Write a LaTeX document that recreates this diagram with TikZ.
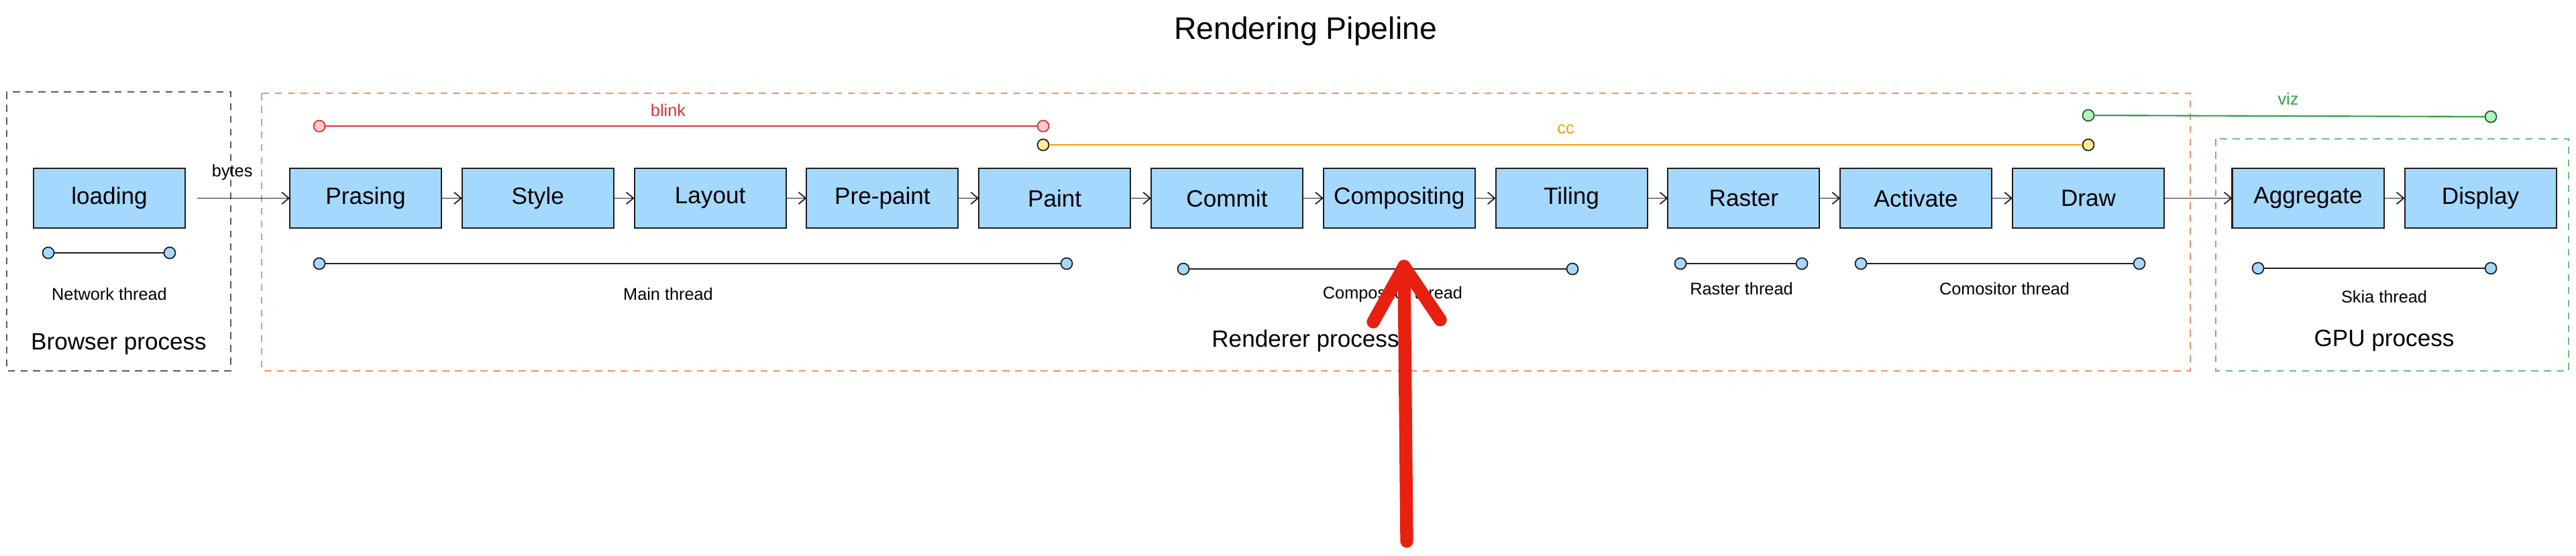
\documentclass[tikz,border=0pt]{standalone}
\usepackage{fontspec}
\setmainfont{Liberation Sans}
\usetikzlibrary{arrows.meta,positioning}
\definecolor{stageblue}{RGB}{165,216,255}
\definecolor{inkgray}{RGB}{30,30,30}
\definecolor{browsergray}{RGB}{90,90,90}
\definecolor{rendererorange}{RGB}{245,146,92}
\definecolor{gpugreen}{RGB}{105,190,125}
\definecolor{blinkred}{RGB}{224,49,49}
\definecolor{blinkpink}{RGB}{255,201,201}
\definecolor{ccorange}{RGB}{245,159,0}
\definecolor{ccyellow}{RGB}{255,236,153}
\definecolor{vizgreen}{RGB}{47,158,68}
\definecolor{vizlight}{RGB}{178,242,187}
\definecolor{markred}{RGB}{232,32,16}

\begin{document}
\begin{tikzpicture}[
    stage/.style={draw=inkgray, line width=0.6pt, fill=stageblue, minimum width=2.26cm,
        minimum height=0.89cm, inner sep=0pt, outer sep=0pt, font=\fontsize{10}{12}\selectfont},
    flow/.style={-{Straight Barb[length=3pt,width=5pt]}, draw=inkgray, line width=0.5pt},
    threaddot/.style={circle, draw=inkgray, line width=0.5pt, fill=stageblue,
        minimum size=0.17cm, inner sep=0pt},
    threadline/.style={draw=inkgray, line width=0.7pt},
    smalltext/.style={font=\fontsize{7.2}{9}\selectfont},
    procbox/.style={dash pattern=on 3pt off 2.4pt, line width=0.5pt},
    proclabel/.style={font=\fontsize{10}{12}\selectfont},
    scribble/.style={draw=markred, line width=5.5pt, line cap=round, line join=round},
]
    \useasboundingbox (0,0) rectangle (38.40,-8.28);

    % Title
    \node[font=\fontsize{13.2}{16}\selectfont] (title) at (19.46,-0.47) {Rendering Pipeline};

    % Processes
    \draw[procbox, draw=browsergray] (0.10,-1.37) rectangle (3.44,-5.53);
    \draw[procbox, draw=rendererorange] (3.90,-1.39) rectangle (32.65,-5.53);
    \draw[procbox, draw=gpugreen] (33.03,-2.07) rectangle (38.29,-5.53);
    \node[proclabel] (browserlbl) at (1.77,-5.13) {Browser process};
    \node[proclabel] (rendererlbl) at (19.46,-5.08) {Renderer process};
    \node[proclabel] (gpulbl) at (35.54,-5.08) {GPU process};

    % Pipeline stages
    \node[stage] (loading) at (1.63,-2.955) {loading};
    \node[stage] (prasing) at (5.45,-2.955) {Prasing};
    \node[stage, right=0.308cm of prasing] (style) {Style};
    \node[stage, right=0.308cm of style] (layout) {Layout};
    \node[stage, right=0.308cm of layout] (prepaint) {Pre-paint};
    \node[stage, right=0.308cm of prepaint] (paint) {Paint};
    \node[stage, right=0.308cm of paint] (commit) {Commit};
    \node[stage, right=0.308cm of commit] (compositing) {Compositing};
    \node[stage, right=0.308cm of compositing] (tiling) {Tiling};
    \node[stage, right=0.308cm of tiling] (raster) {Raster};
    \node[stage, right=0.308cm of raster] (activate) {Activate};
    \node[stage, right=0.308cm of activate] (drawstage) {Draw};
    \node[stage] (aggregate) at (34.405,-2.955) {Aggregate};
    \node[stage, right=0.31cm of aggregate] (display) {Display};

    \draw[flow, shorten <=0.18cm] (loading) -- node[smalltext, above=4pt, pos=0.45] (bytes) {bytes} (prasing);
    \draw[flow] (prasing) -- (style);
    \draw[flow] (style) -- (layout);
    \draw[flow] (layout) -- (prepaint);
    \draw[flow] (prepaint) -- (paint);
    \draw[flow] (paint) -- (commit);
    \draw[flow] (commit) -- (compositing);
    \draw[flow] (compositing) -- (tiling);
    \draw[flow] (tiling) -- (raster);
    \draw[flow] (raster) -- (activate);
    \draw[flow] (activate) -- (drawstage);
    \draw[flow] (drawstage) -- (aggregate);
    \draw[flow] (aggregate) -- (display);

    % Threads
    \node[threaddot] (net1) at (0.72,-3.77) {};
    \node[threaddot] (net2) at (2.53,-3.77) {};
    \draw[threadline] (net1) -- (net2);
    \node[smalltext] (netlbl) at (1.63,-4.38) {Network thread};

    \node[threaddot] (main1) at (4.76,-3.93) {};
    \node[threaddot] (main2) at (15.90,-3.93) {};
    \draw[threadline] (main1) -- (main2);
    \node[smalltext] (mainlbl) at (9.96,-4.38) {Main thread};

    \node[threaddot] (comp1) at (17.64,-4.01) {};
    \node[threaddot] (comp2) at (23.44,-4.01) {};
    \draw[threadline] (comp1) -- (comp2);
    \node[smalltext] (complbl) at (20.76,-4.39) {Compositor thread};

    \node[threaddot] (rast1) at (25.05,-3.93) {};
    \node[threaddot] (rast2) at (26.86,-3.93) {};
    \draw[threadline] (rast1) -- (rast2);
    \node[smalltext] (rastlbl) at (25.96,-4.30) {Raster thread};

    \node[threaddot] (como1) at (27.74,-3.93) {};
    \node[threaddot] (como2) at (31.89,-3.93) {};
    \draw[threadline] (como1) -- (como2);
    \node[smalltext] (comolbl) at (29.88,-4.30) {Comositor thread};

    \node[threaddot] (skia1) at (33.66,-4.00) {};
    \node[threaddot] (skia2) at (37.13,-4.00) {};
    \draw[threadline] (skia1) -- (skia2);
    \node[smalltext] (skialbl) at (35.54,-4.42) {Skia thread};

    % Modules
    \node[threaddot, draw=blinkred, fill=blinkpink] (blink1) at (4.76,-1.88) {};
    \node[threaddot, draw=blinkred, fill=blinkpink] (blink2) at (15.55,-1.88) {};
    \draw[blinkred, line width=0.6pt] (blink1) -- (blink2);
    \node[smalltext, text=blinkred] (blinklbl) at (9.96,-1.64) {blink};

    \node[threaddot, fill=ccyellow] (cc1) at (15.55,-2.16) {};
    \node[threaddot, fill=ccyellow] (cc2) at (31.13,-2.16) {};
    \draw[ccorange, line width=0.6pt] (cc1) -- (cc2);
    \node[smalltext, text=ccorange] (cclbl) at (23.34,-1.93) {cc};

    \node[threaddot, draw=vizgreen!60!black, fill=vizlight] (viz1) at (31.13,-1.72) {};
    \node[threaddot, draw=vizgreen!60!black, fill=vizlight] (viz2) at (37.13,-1.74) {};
    \draw[vizgreen, line width=0.6pt] (viz1) -- (viz2);
    \node[smalltext, text=vizgreen] (vizlbl) at (34.11,-1.47) {viz};

    % Hand-drawn pointer
    \coordinate (marktail) at (20.97,-8.07);
    \coordinate (marktip) at (20.93,-3.97);
    \draw[scribble] (marktail) -- (marktip);
    \draw[scribble] (20.47,-4.80) -- (marktip) -- (21.47,-4.77);
\end{tikzpicture}
\end{document}
